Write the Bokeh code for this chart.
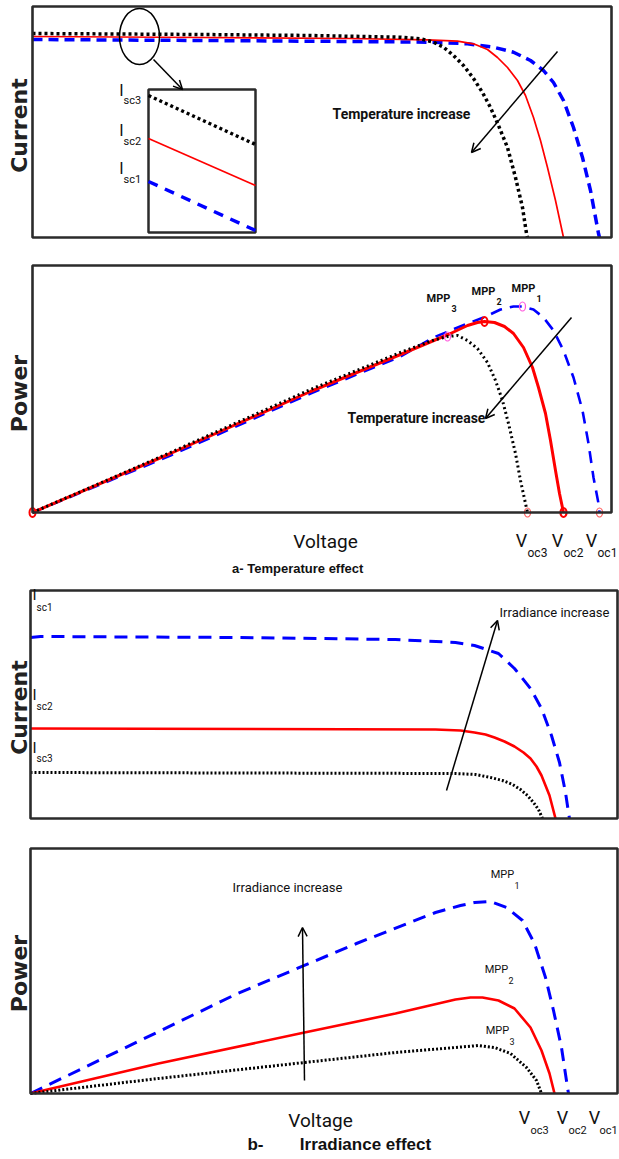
from bokeh.plotting import figure
from bokeh.models import Range1d, Label, Arrow, OpenHead
from bokeh.layouts import column
from bokeh.embed import file_html
from bokeh.resources import INLINE
import math

# ---------------- a) temperature effect : I-V (arbitrary units) ----------------
TI_V1 = [0, 168, 318, 401, 435, 461, 481, 498, 511, 521, 531, 541, 550, 558, 566, 567]
TI_I1 = [198, 197, 196, 195.3, 193.7, 190.3, 185.3, 177, 167, 155, 137, 110, 80, 47, 4, 0]
TI_V2 = [0, 168, 318, 395, 425, 441, 455, 465, 475, 485, 493, 501, 508, 515, 523, 531]
TI_I2 = [201, 200, 199, 197.7, 196.3, 193.7, 188, 180, 170, 157, 142, 120, 97, 70, 37, 0]
TI_V3 = [0, 168, 278, 368, 388, 401, 411, 421, 431, 441, 450, 458, 466, 475, 483, 490, 494, 495]
TI_I3 = [204, 203, 202, 200.3, 198.7, 195.3, 190.3, 182, 172, 159, 145, 130, 112, 90, 60, 30, 4, 0]
# zoomed inset (same three curves, magnified)
INSET_V = [116, 223]
INSET_I3 = [142, 93]
INSET_I2 = [99, 52]
INSET_I1 = [56, 7]

# ---------------- a) temperature effect : P-V ----------------
TP_V1 = [0, 138, 278, 368, 401, 418, 435, 451, 468, 481, 490, 501, 511, 521, 531, 541, 550, 556, 561, 566, 567]
TP_P1 = [0, 57, 119, 156, 175, 182, 189, 195, 203, 206, 206, 203, 195, 182, 162, 135, 102, 69, 35, 9, 0]
TP_V2 = [0, 138, 278, 368, 418, 435, 445, 452, 462, 472, 481, 491, 500, 506, 513, 518, 523, 527, 531]
TP_P2 = [0, 59, 121, 158, 179, 187, 190, 191, 190, 186, 179, 165, 145, 125, 99, 72, 42, 19, 0]
TP_V3 = [0, 138, 278, 368, 400, 415, 425, 435, 445, 455, 463, 470, 476, 483, 488, 493, 495]
TP_P3 = [0, 60, 123, 160, 172, 176, 177, 172, 164, 150, 132, 112, 89, 59, 32, 9, 0]
T_MPP_V = [415, 452, 490]
T_MPP_P = [176, 191, 206]
T_VOC = [495, 531, 567]

# ---------------- b) irradiance effect : I-V ----------------
GI_V1 = [0, 10, 207, 365, 425, 444, 468, 484, 500, 511, 521, 529, 535, 538, 539]
GI_I1 = [181, 182, 181, 179, 176, 173, 165, 150, 130, 110, 83, 56, 26, 6, 0]
GI_V2 = [0, 405, 430, 444, 455, 464, 474, 484, 493, 500, 506, 511, 519, 525]
GI_I2 = [90, 89, 88, 86, 84, 81, 77, 72, 66, 60, 52, 43, 23, 0]
GI_V3 = [0, 425, 445, 460, 472, 482, 490, 497, 503, 508, 512]
GI_I3 = [46, 45, 44, 41, 38, 34, 29, 23, 16, 9, 0]

# ---------------- b) irradiance effect : P-V ----------------
GP_V1 = [0, 89, 207, 326, 405, 430, 444, 460, 476, 492, 504, 515, 523, 531, 537, 538]
GP_P1 = [0, 43, 100, 150, 181, 188, 191, 192, 186, 173, 150, 116, 83, 46, 6, 0]
GP_V2 = [0, 128, 274, 365, 425, 440, 452, 468, 484, 500, 511, 519, 524]
GP_P2 = [0, 30, 61, 80, 94, 96, 96, 93, 85, 66, 43, 20, 0]
GP_V3 = [0, 128, 274, 365, 425, 448, 464, 480, 496, 506, 511]
GP_P3 = [0, 15, 31, 41, 46, 48, 46, 40, 26, 13, 0]

NARROW = "Roboto"
SANS = "Liberation Sans"
WIDE = "DejaVu Sans"
FRAME = "#2b2b2b"
BLUE = "#0000ff"
RED = "#ff0000"


def make_fig(h, xr, yr):
    p = figure(width=619, height=h, x_range=Range1d(*xr), y_range=Range1d(*yr),
               x_axis_location=None, y_axis_location=None, toolbar_location=None,
               output_backend="svg", min_border=0, min_border_top=0, min_border_bottom=0,
               min_border_left=0, min_border_right=0)
    p.grid.visible = False
    p.outline_line_color = None
    p.background_fill_color = "white"
    p.border_fill_color = "white"
    return p


def box(p, w, h):
    p.quad(left=[0], right=[w], bottom=[0], top=[h], fill_color=None,
           line_color=FRAME, line_width=2.6)


def lab(p, x, y, text, size, font=NARROW, style="bold", align="center",
        baseline="middle", angle=0, color="#111111"):
    p.add_layout(Label(x=x, y=y, text=text, text_font=font, text_font_size=f"{size}px",
                       text_font_style=style, text_align=align, text_baseline=baseline,
                       angle=angle, text_color=color))


def arrow(p, x0, y0, x1, y1):
    p.add_layout(Arrow(end=OpenHead(size=9, line_width=1.5, line_color="black"),
                       x_start=x0, y_start=y0, x_end=x1, y_end=y1,
                       line_width=1.5, line_color="black"))


def ylab(p, x, y, text):
    lab(p, x, y, text, 22, font=WIDE, style="bold", angle=math.pi / 2, color="#222222")


# ===== Panel 1 (page y 0..258) =====
p1 = make_fig(258, (-32, 587), (-21, 237))
p1.line(TI_V1, TI_I1, line_color=BLUE, line_width=3.5, line_dash="10 6")
p1.line(TI_V2, TI_I2, line_color=RED, line_width=1.7)
p1.line(TI_V3, TI_I3, line_color="black", line_width=3.5, line_dash="3 3")
p1.ellipse(x=[107], y=[201], width=40, height=56, fill_color=None,
           line_color="black", line_width=1.5)
arrow(p1, 121, 178, 150, 148)
p1.quad(left=[INSET_V[0]], right=[INSET_V[1]], bottom=[5], top=[148],
        fill_color="white", line_color=FRAME, line_width=2.5)
p1.line(INSET_V, INSET_I3, line_color="black", line_width=3.5, line_dash="3 3")
p1.line(INSET_V, INSET_I2, line_color=RED, line_width=1.7)
p1.line(INSET_V, INSET_I1, line_color=BLUE, line_width=3.5, line_dash="10 8")
for iy, sy, sub in [(147, 137, "sc3"), (107, 96, "sc2"), (69, 58, "sc1")]:
    lab(p1, 89, iy, "I", 16, style="normal")
    lab(p1, 91, sy, sub, 11, style="normal", align="left")
arrow(p1, 525, 186, 439, 85)
lab(p1, 369, 124, "Temperature increase", 14)
ylab(p1, -13, 112, "Current")
box(p1, 579, 231)

# ===== Panel 2 (page y 258..582) =====
p2 = make_fig(324, (-32, 587), (-70, 254))
p2.line(TP_V1, TP_P1, line_color=BLUE, line_width=2.6, line_dash="12 8")
p2.line(TP_V2, TP_P2, line_color=RED, line_width=3)
p2.line(TP_V3, TP_P3, line_color="black", line_width=3, line_dash="2 3")
p2.ellipse(x=[0, T_MPP_V[1]], y=[0, T_MPP_P[1]], width=6, height=9,
           width_units="screen", height_units="screen", fill_color=None,
           line_color=RED, line_width=2)
p2.ellipse(x=[T_MPP_V[0], T_MPP_V[2]], y=[T_MPP_P[0], T_MPP_P[2]], width=6, height=9,
           width_units="screen", height_units="screen", fill_color=None,
           line_color="#ff55dd", line_width=1.2)
p2.ellipse(x=[T_VOC[0], T_VOC[2]], y=[0, 0], width=6, height=9,
           width_units="screen", height_units="screen", fill_color=None,
           line_color="#ff5555", line_width=1.2)
p2.ellipse(x=[T_VOC[1]], y=[0], width=6, height=9,
           width_units="screen", height_units="screen", fill_color=None,
           line_color=RED, line_width=2.2)
for (mx, my, sx, sy, s) in [(406, 214, 419, 204, "3"), (451, 221, 464, 211, "2"),
                            (491, 224, 504, 214, "1")]:
    lab(p2, mx, my, "MPP", 11)
    lab(p2, sx, sy, s, 9, align="left")
arrow(p2, 539, 195, 453, 94)
lab(p2, 384, 95, "Temperature increase", 14)
ylab(p2, -13, 119, "Power")
lab(p2, 293, -29, "Voltage", 19, style="normal")
lab(p2, 267, -56, "a-  Temperature effect", 13, font=SANS, style="bold")
for (vx, sx, s) in [(489, 495, "oc3"), (525, 531, "oc2"), (559, 565, "oc1")]:
    lab(p2, vx, -28, "V", 18, style="normal")
    lab(p2, sx, -40, s, 12, style="normal", align="left")
box(p2, 579, 247)

# ===== Panel 3 (page y 582..840) =====
p3 = make_fig(258, (-30, 589), (-22, 236))
p3.line(GI_V1, GI_I1, line_color=BLUE, line_width=3, line_dash="13 8")
p3.line(GI_V2, GI_I2, line_color=RED, line_width=2.6)
p3.line(GI_V3, GI_I3, line_color="black", line_width=3, line_dash="2 2")
for (iy, sy, s) in [(224, 211, "sc1"), (124, 112, "sc2"), (71, 60, "sc3")]:
    lab(p3, 4, iy, "I", 15, style="normal")
    lab(p3, 6, sy, s, 10, style="normal", align="left")
arrow(p3, 416, 28, 467, 198)
lab(p3, 524, 206, "Irradiance increase", 13, style="normal")
ylab(p3, -11, 111, "Current")
box(p3, 587, 228)

# ===== Panel 4 (page y 840..1158) =====
p4 = make_fig(318, (-30, 589), (-65, 253))
p4.line(GP_V1, GP_P1, line_color=BLUE, line_width=3, line_dash="13 8")
p4.line(GP_V2, GP_P2, line_color=RED, line_width=2.6)
p4.line(GP_V3, GP_P3, line_color="black", line_width=3, line_dash="2 2")
for (mx, my, sx, sy, s) in [(472, 219, 484, 208, "1"), (466, 124, 478, 113, "2"),
                            (467, 63, 479, 52, "3")]:
    lab(p4, mx, my, "MPP", 11, style="normal")
    lab(p4, sx, sy, s, 9, style="normal", align="left")
arrow(p4, 274, 13, 272, 166)
lab(p4, 257, 206, "Irradiance increase", 13, style="normal")
ylab(p4, -11, 120, "Power")
lab(p4, 290, -27, "Voltage", 19, style="normal")
lab(p4, 225, -51, "b-", 17, font=SANS, style="bold")
lab(p4, 335, -51, "Irradiance effect", 17, font=SANS, style="bold")
for (vx, sx, s) in [(494, 500, "oc3"), (532, 538, "oc2"), (564, 569, "oc1")]:
    lab(p4, vx, -24, "V", 18, style="normal")
    lab(p4, sx, -37, s, 11, style="normal", align="left")
box(p4, 587, 245)

layout = column(p1, p2, p3, p4, spacing=0)
open("out.html", "w").write(file_html(layout, INLINE))
